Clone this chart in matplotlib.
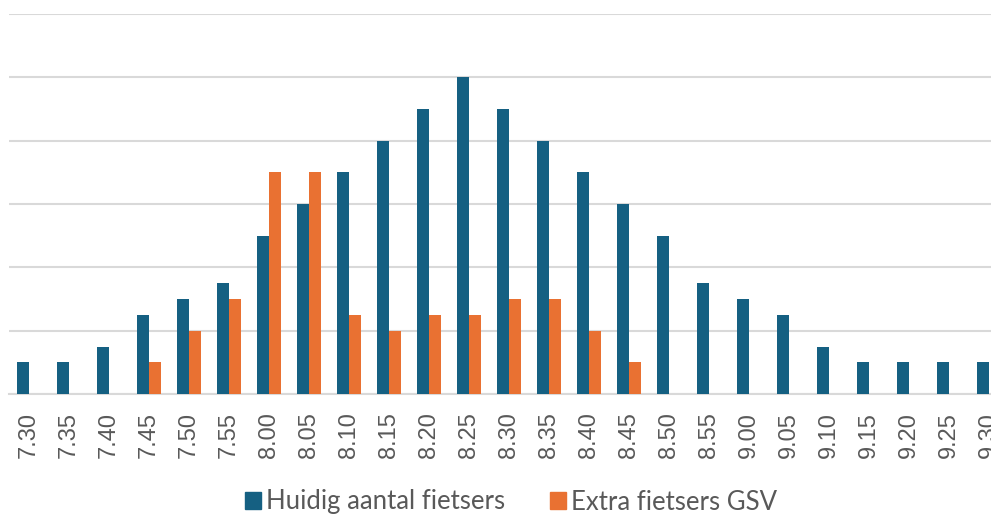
import numpy as np
import matplotlib.pyplot as plt
from matplotlib.patches import Patch

# tijdstippen en aantallen
tijden = ['7.30', '7.35', '7.40', '7.45', '7.50', '7.55', '8.00', '8.05', '8.10',
          '8.15', '8.20', '8.25', '8.30', '8.35', '8.40', '8.45', '8.50', '8.55',
          '9.00', '9.05', '9.10', '9.15', '9.20', '9.25', '9.30']
huidig = [2, 2, 3, 5, 6, 7, 10, 12, 14, 16, 18, 20, 18, 16, 14, 12, 10, 7,
          6, 5, 3, 2, 2, 2, 2]
extra = [0, 0, 0, 2, 4, 6, 14, 14, 5, 4, 5, 5, 6, 6, 4, 2, 0, 0,
         0, 0, 0, 0, 0, 0, 0]

blauw = '#156082'
oranje = '#E97132'

fig = plt.figure(figsize=(9.91, 5.15), dpi=100)
ax = fig.add_axes([9 / 991, 121 / 515, 1000 / 991, 380 / 515])

x = np.arange(len(tijden))
w = 0.29
ax.bar(x - w / 2, huidig, w, color=blauw, zorder=3)
ax.bar(x + w / 2, extra, w, color=oranje, zorder=3)

ax.set_xlim(-0.5, len(tijden) - 0.5)
ax.set_ylim(0, 24)
ax.set_yticks(np.arange(0, 25, 4))
ax.yaxis.grid(True, color='#d9d9d9', linewidth=1.5, zorder=0)
ax.tick_params(axis='y', left=False, labelleft=False)
ax.set_xticks(x)
ax.set_xticklabels(tijden, rotation=90, fontsize=17, color='#595959',
                   family='Liberation Sans')
ax.tick_params(axis='x', length=0, pad=13)
for s in ['top', 'right', 'left']:
    ax.spines[s].set_visible(False)
ax.spines['bottom'].set_color('#d9d9d9')
ax.spines['bottom'].set_linewidth(1.5)

handles = [Patch(color=blauw, label='Huidig aantal fietsers'),
           Patch(color=oranje, label='Extra fietsers GSV')]
fig.legend(handles=handles, loc='center', bbox_to_anchor=(511 / 991, 13 / 515),
           ncol=2, frameon=False, prop={'family': 'Lato', 'size': 18.5},
           labelcolor='#595959', handlelength=0.62, handleheight=0.62,
           handletextpad=0.2, columnspacing=1.75)

fig.savefig('out.png', dpi=100)
